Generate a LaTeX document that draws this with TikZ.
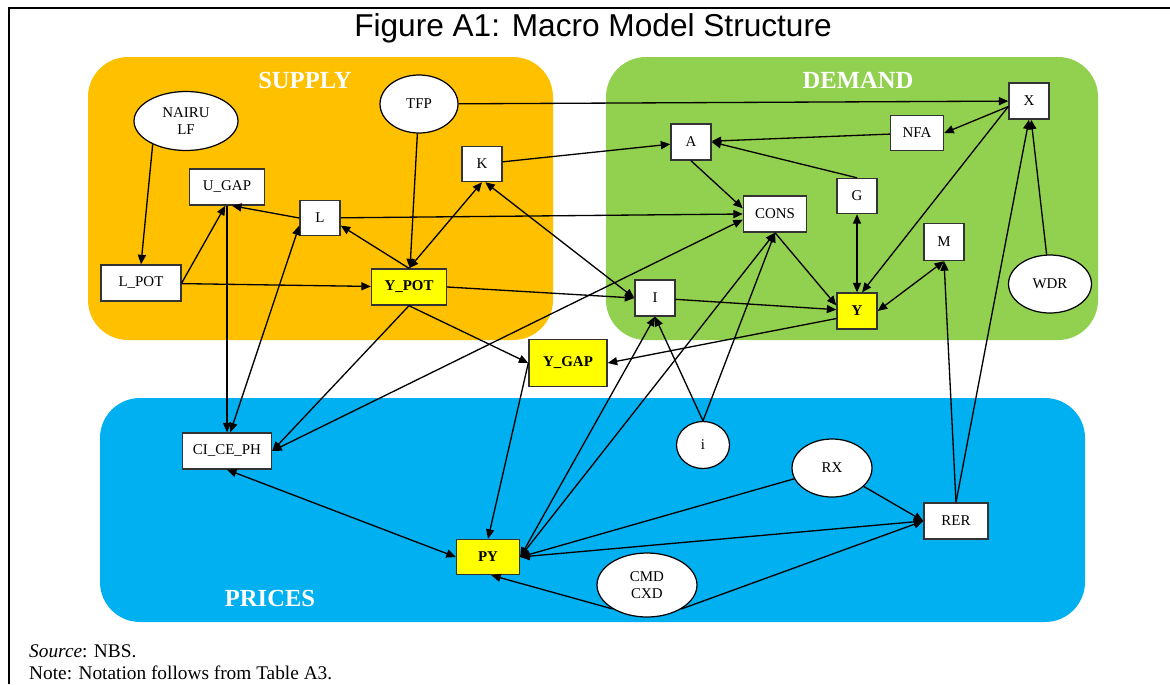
\documentclass[tikz,border=0pt]{standalone}
\usepackage{fontspec}
\setmainfont{Liberation Serif}
\newfontfamily\titlefont{Liberation Sans}
\usepackage{tikz}
\usetikzlibrary{arrows.meta,shapes.geometric}
\definecolor{supplyorange}{HTML}{FFC000}
\definecolor{demandgreen}{HTML}{92D050}
\definecolor{pricesblue}{HTML}{00B0F0}
\definecolor{keyyellow}{HTML}{FFFF00}

\begin{document}
\begin{tikzpicture}[
        x=0.02cm, y=-0.02cm,
        font=\fontsize{8.5}{10}\selectfont,
        >={Triangle[length=5.4pt, width=4.6pt]},
        var/.style={draw=black!80, fill=white, line width=0.8pt,
                    minimum width=0.8cm, minimum height=0.72cm,
                    inner sep=1pt, align=center},
        core/.style={var, fill=keyyellow, font=\fontsize{8.5}{10}\selectfont\bfseries},
        ext/.style={ellipse, draw=black, fill=white, line width=0.7pt,
                    inner sep=1pt, align=center},
        lane/.style={rounded corners=0.8cm},
        lanelbl/.style={text=white, font=\fontsize{14}{16}\selectfont\bfseries},
        link/.style={line width=0.75pt},
    ]
        \useasboundingbox (0,0) rectangle (1170,684);
        \draw[line width=1.6pt] (9,684) -- (9,8) -- (1170,8);
        \node[font=\titlefont\fontsize{18}{20}\selectfont] (title) at (593,28)
            {Figure A1: Macro Model Structure};
        % Three blocks.
        \fill[supplyorange, lane] (88,57) rectangle (553,340);
        \fill[demandgreen, lane] (606,57) rectangle (1098,340);
        \fill[pricesblue, lane] (100,398) rectangle (1085,622);
        \node[lanelbl] (supply) at (305,80) {SUPPLY};
        \node[lanelbl] (demand) at (858,80) {DEMAND};
        \node[lanelbl] (prices) at (270,598) {PRICES};
        % Supply side.
        \node[ext, minimum width=2.08cm, minimum height=1.18cm] (nairu) at (186,121) {NAIRU\\LF};
        \node[ext, minimum width=1.56cm, minimum height=1.16cm] (tfp) at (419,104) {TFP};
        \node[var, minimum height=0.7cm] (kap) at (482,164) {K};
        \node[var, minimum width=1.5cm] (ugap) at (227,187) {U\_GAP};
        \node[var, minimum height=0.7cm] (lab) at (320,218) {L};
        \node[var, minimum width=1.6cm] (lpot) at (141,283) {L\_POT};
        \node[core, minimum width=1.5cm] (ypot) at (409,287) {Y\_POT};
        % Demand side.
        \node[var] (ex) at (1029,101) {X};
        \node[var, minimum width=1.06cm, minimum height=0.7cm] (nfa) at (917,133) {NFA};
        \node[var] (absorb) at (691,142) {A};
        \node[var, minimum height=0.7cm] (gov) at (857,196) {G};
        \node[var, minimum width=1.26cm] (cons) at (775,214) {CONS};
        \node[var, minimum height=0.74cm] (imp) at (944,242) {M};
        \node[ext, minimum width=1.66cm, minimum height=1.16cm] (wdr) at (1050,284) {WDR};
        \node[var] (inv) at (655,298) {I};
        \node[core] (out) at (857,311) {Y};
        \node[core, minimum width=1.56cm, minimum height=0.94cm] (ygap) at (568,363) {Y\_GAP};
        % Prices.
        \node[ext, minimum width=1.06cm, minimum height=0.94cm] (rate) at (703,445) {i};
        \node[var, minimum width=1.78cm] (cicph) at (227,451) {CI\_CE\_PH};
        \node[ext, minimum width=1.6cm, minimum height=1.16cm] (rx) at (832,468) {RX};
        \node[var, minimum width=1.28cm] (rer) at (956,521) {RER};
        \node[core, minimum width=1.26cm, minimum height=0.7cm] (py) at (488,557) {PY};
        \node[ext, minimum width=2cm, minimum height=1.28cm] (cmd) at (647,585) {CMD\\CXD};
        % Supply links.
        \draw[link, ->] (nairu.215) -- (lpot.north);
        \draw[link, ->] (lpot.east) -- (ugap.-95);
        \draw[link, ->] (lpot) -- (ypot);
        \draw[link, ->] (lab.west) -- (ugap.-75);
        \draw[link, ->] (ugap.south) -- (cicph.north);
        \draw[link, <->] (lab.200) -- (cicph.80);
        \draw[link, ->] (ypot.north) -- (lab.-20);
        \draw[link, ->] (tfp) -- (ypot);
        \draw[link, <->] (kap.south) -- (ypot.north);
        \draw[link, <->] (kap.-80) -- (inv.west);
        \draw[link, ->] (ypot.east) -- (inv.west);
        \draw[link, ->] (tfp) -- (ex);
        \draw[link, ->] (kap) -- (absorb);
        \draw[link, ->] (lab) -- (cons.west);
        % Demand links.
        \draw[link, ->] (nfa) -- (absorb);
        \draw[link, ->] (ex.195) -- (nfa.east);
        \draw[link, ->] (ex.195) -- (out.75);
        \draw[link, ->] (gov.north) -- (absorb.east);
        \draw[link, ->] (absorb.south) -- (cons.170);
        \draw[link, <->] (gov) -- (out);
        \draw[link, ->] (cons.south) -- (out.165);
        \draw[link, ->] (inv) -- (out);
        \draw[link, <->] (out.east) -- (imp.south);
        \draw[link, ->] (wdr) -- (ex);
        \draw[link, ->] (out.200) -- (ygap.east);
        \draw[link, ->] (ypot.south) -- (ygap.west);
        \draw[link, ->] (ypot.south) -- (cicph.east);
        \draw[link, <->] (cons.190) -- (cicph.east);
        % Price links.
        \draw[link, ->] (rer.north) -- (imp.south);
        \draw[link, ->] (rer.north) -- (ex.south);
        \draw[link, ->] (ygap.west) -- (py.north);
        \draw[link, <->] (inv.south) -- (py.east);
        \draw[link, <->] (cons.south) -- (py.east);
        \draw[link, ->] (rate.north) -- (inv.south);
        \draw[link, ->] (rate.north) -- (cons.south);
        \draw[link, ->] (rx) -- (py.east);
        \draw[link, ->] (rx) -- (rer.west);
        \draw[link, <->] (py.east) -- (rer.west);
        \draw[link, ->] (cmd.215) -- (py.-80);
        \draw[link, ->] (cmd.-35) -- (rer.west);
        \draw[link, <->] (cicph.south) -- (py.west);
        % Notes.
        \node[anchor=base west, font=\fontsize{11}{13}\selectfont] (src) at (23,657)
            {\textit{Source}: NBS.};
        \node[anchor=base west, font=\fontsize{11}{13}\selectfont] (note) at (23,679)
            {Note: Notation follows from Table A3.};
    \end{tikzpicture}
\end{document}
